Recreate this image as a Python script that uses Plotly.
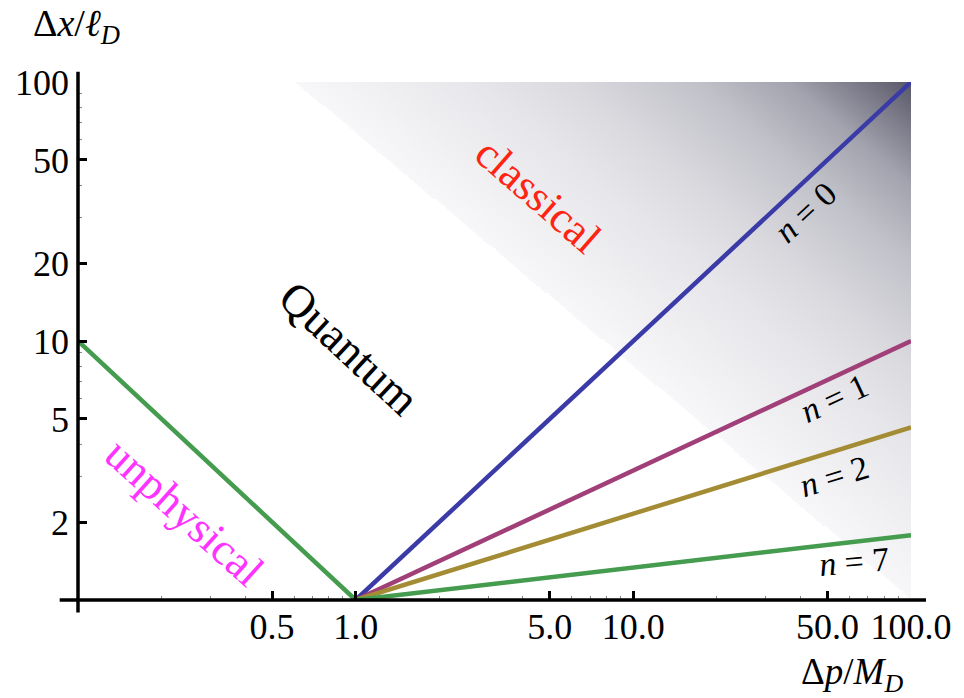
import numpy as np
import plotly.graph_objects as go

# ---- data ----
n_values = [0, 1, 2, 7]
dp_range = [1, 100]                      # Δp/M_D span of the n-lines
dx_end = {0: 100, 1: 10, 2: 4.64, 7: 1.78}  # Δx/ℓ_D at Δp = 100
line_colors = {0: "#3b3ba8", 1: "#a03f78", 2: "#a38c34", 7: "#459c4f"}

unphys_dp = [0.1, 1]
unphys_dx = [10, 1]

x_ticks = [0.5, 1.0, 5.0, 10.0, 50.0, 100.0]
x_ticktext = ["0.5", "1.0", "5.0", "10.0", "50.0", "100.0"]
y_ticks = [2, 5, 10, 20, 50, 100]
y_ticktext = ["2", "5", "10", "20", "50", "100"]
x_minor = [0.2, 0.3, 0.4, 0.6, 0.7, 0.8, 0.9, 2, 3, 4, 6, 7, 8, 9,
           20, 30, 40, 60, 70, 80, 90]
y_minor = [3, 4, 6, 7, 8, 9, 30, 40, 60, 70, 80, 90]

# ---- shaded "classical" band: darkens toward large Δx·Δp ----
slope = 0.9
lx_edges = np.linspace(-1, 2, 421)
ly_edges = np.linspace(0, 2, 301)
lxc = 0.5 * (lx_edges[1:] + lx_edges[:-1])
lyc = 0.5 * (ly_edges[1:] + ly_edges[:-1])
LX, LY = np.meshgrid(lxc, lyc)
s = LY + slope * LX - (2 - slope * 0.218)
smax = 2 + slope * 2 - (2 - slope * 0.218)
z = np.where(s >= 0, s / smax, np.nan)

shade_scale = [
    [0.0, "rgb(247,247,249)"],
    [0.3, "rgb(230,230,234)"],
    [0.45, "rgb(217,217,222)"],
    [0.65, "rgb(193,193,201)"],
    [0.8, "rgb(163,163,175)"],
    [1.0, "rgb(88,88,104)"],
]

fig = go.Figure()
fig.add_trace(go.Heatmap(
    x=10 ** lx_edges, y=10 ** ly_edges, z=z,
    colorscale=shade_scale, zmin=0, zmax=1,
    showscale=False, hoverinfo="skip",
))

fig.add_trace(go.Scatter(
    x=unphys_dp, y=unphys_dx, mode="lines",
    line=dict(color="#459c4f", width=4.5), showlegend=False,
))
for n in n_values:
    fig.add_trace(go.Scatter(
        x=dp_range, y=[1, dx_end[n]], mode="lines",
        line=dict(color=line_colors[n], width=4.5), showlegend=False,
    ))

serif = "Liberation Serif"
tickfont = dict(family=serif, size=36, color="black")

fig.update_xaxes(
    type="log", range=[-1, 2], showgrid=False, zeroline=False, showline=False,
    tickmode="array", tickvals=x_ticks, ticktext=x_ticktext,
    ticks="inside", ticklen=9, tickwidth=3, tickcolor="black",
    tickfont=tickfont, ticklabelstandoff=2,
    minor=dict(tickmode="array", tickvals=x_minor, ticks="inside",
               ticklen=4, tickwidth=1, tickcolor="#888"),
)
fig.update_yaxes(
    type="log", range=[0, 2], showgrid=False, zeroline=False, showline=False,
    tickmode="array", tickvals=y_ticks, ticktext=y_ticktext,
    ticks="inside", ticklen=9, tickwidth=3, tickcolor="black",
    tickfont=tickfont, ticklabelstandoff=8,
    minor=dict(tickmode="array", tickvals=y_minor, ticks="inside",
               ticklen=4, tickwidth=1, tickcolor="#888"),
)

# axis lines, drawn a little past the plotting range
fig.add_shape(type="line", xref="paper", yref="paper",
              x0=-0.022, x1=1.018, y0=0, y1=0,
              line=dict(color="black", width=3.5), layer="above")
fig.add_shape(type="line", xref="paper", yref="paper",
              x0=0, x1=0, y0=-0.024, y1=1.02,
              line=dict(color="black", width=3.5), layer="above")

W, H = 840, 518
def px(x, y):
    return (x - 78) / W, (600 - y) / H

ann = []
def label(text, x, y, angle, size, color="black", family=serif):
    fx, fy = px(x, y)
    ann.append(dict(text=text, x=fx, y=fy, xref="paper", yref="paper",
                    xanchor="center", yanchor="middle", showarrow=False,
                    textangle=angle, font=dict(family=family, size=size, color=color)))

label("classical", 542, 195, 41, 44, "#ff2412")
label("Quantum", 352, 348, 43, 46, "black")
label("unphysical", 185, 512, 42, 45, "#ff33ff")
label("<i>n</i> = 0", 811, 212, -43, 34)
label("<i>n</i> = 1", 840, 398, -25, 34)
label("<i>n</i> = 2", 840, 476, -17, 34)
label("<i>n</i> = 7", 861, 561, -5, 34)

label("Δ<i>x</i>/<i>ℓ</i><sub><i>D</i></sub>", 76, 26, 0, 38)
label("Δ<i>p</i>/<i>M</i><sub><i>D</i></sub>", 858, 674, 0, 37)

fig.update_layout(
    width=964, height=698,
    margin=dict(l=78, r=46, t=82, b=98),
    plot_bgcolor="white", paper_bgcolor="white",
    annotations=ann, showlegend=False,
)

fig.write_html("out.html")
